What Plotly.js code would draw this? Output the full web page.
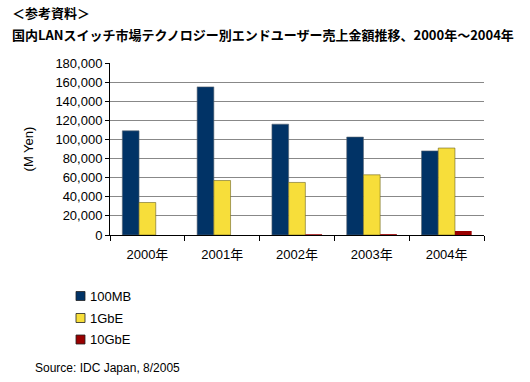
<!DOCTYPE html>
<html>
<head>
<meta charset="utf-8">
<script src="https://cdn.plot.ly/plotly-3.0.1.min.js"></script>
<style>html,body{margin:0;padding:0;background:#fff;}#chart{width:530px;height:382px;}</style>
</head>
<body>
<div id="chart"></div>
<script>
const years = ["2000年", "2001年", "2002年", "2003年", "2004年"];
const series100MB = [109000, 155000, 116000, 102500, 88000];
const series1GbE = [34000, 57000, 55000, 63000, 91000];
const series10GbE = [0, 0, 800, 900, 4200];
const seriesNames = ["100MB", "1GbE", "10GbE"];
const seriesColors = ["#013366", "#F7DE3A", "#990000"];
const yTicks = [0, 20000, 40000, 60000, 80000, 100000, 120000, 140000, 160000, 180000];

const FONT = "Liberation Sans, Arial, Noto Sans CJK JP, sans-serif";
const M = { l: 110, r: 46, t: 63, b: 147 };
const W = 530, H = 382;
const PW = W - M.l - M.r, PH = H - M.t - M.b;
const px = x => (x - M.l) / PW;            // pixel x -> paper x
const py = y => (H - M.b - y) / PH;        // pixel y -> paper y

const allValues = [series100MB, series1GbE, series10GbE];
const outline = ["#5a6470", "#6b6320", "#4a0000"];
const outlineW = [0.6, 0.6, 0];
const traces = allValues.map((vals, i) => ({
  type: "bar",
  name: seriesNames[i],
  x: years,
  y: vals,
  showlegend: false,
  marker: { color: seriesColors[i], line: { color: outline[i], width: outlineW[i] } },
  hoverinfo: "none"
}));

// legend (custom, to match compact squares)
const legendRowsY = [296, 318, 339.5];
const shapes = [];
const annotations = [];
seriesNames.forEach((n, i) => {
  const cy = legendRowsY[i];
  shapes.push({ type: "rect", xref: "paper", yref: "paper",
    x0: px(76), x1: px(85), y0: py(cy + 4.5), y1: py(cy - 4.5),
    fillcolor: seriesColors[i], line: { color: "#222", width: 0.8 } });
  annotations.push({ xref: "paper", yref: "paper", x: px(88), y: py(cy),
    xanchor: "left", yanchor: "middle", text: n, showarrow: false,
    font: { family: FONT, size: 13, color: "#000" } });
});

annotations.push(
  { xref: "paper", yref: "paper", x: px(10), y: py(13), xanchor: "left", yanchor: "middle",
    text: "<b>＜参考資料＞</b>", showarrow: false,
    font: { family: "Noto Sans CJK JP, sans-serif", size: 13, color: "#000" } },
  { xref: "paper", yref: "paper", x: px(10), y: py(35), xanchor: "left", yanchor: "middle",
    text: "<b>国内LANスイッチ市場テクノロジー別エンドユーザー売上金額推移、2000年～2004年</b>", showarrow: false,
    font: { family: "Noto Sans CJK JP, sans-serif", size: 13, color: "#000" } },
  { xref: "paper", yref: "paper", x: px(33), y: py(368), xanchor: "left", yanchor: "middle",
    text: "Source: IDC Japan, 8/2005", showarrow: false,
    font: { family: FONT, size: 12, color: "#000" } }
);

const layout = {
  width: W, height: H,
  margin: M,
  paper_bgcolor: "#fff", plot_bgcolor: "#fff",
  font: { family: FONT, size: 13, color: "#000" },
  barmode: "group",
  bargap: 0.33,
  bargroupgap: 0,
  showlegend: false,
  xaxis: {
    type: "category",
    showline: true, linecolor: "#000", linewidth: 1,
    ticks: "outside", ticklen: 5, tickcolor: "#000", tickson: "boundaries",
    showgrid: false,
    ticklabelstandoff: 7,
    tickfont: { size: 13, family: FONT, color: "#000" },
    fixedrange: true
  },
  yaxis: {
    range: [0, 180000],
    tickvals: yTicks,
    tickformat: ",d",
    showline: true, linecolor: "#000", linewidth: 1,
    ticks: "outside", ticklen: 4, tickcolor: "#000",
    showgrid: true, gridcolor: "#888", gridwidth: 1,
    zeroline: false,
    tickfont: { size: 13, family: FONT, color: "#000" },
    title: { text: "(M Yen)", font: { size: 13, family: FONT, color: "#000" }, standoff: 18 },
    fixedrange: true
  },
  shapes: shapes,
  annotations: annotations
};

Plotly.newPlot("chart", traces, layout, { displayModeBar: false, staticPlot: true });
</script>
</body>
</html>
